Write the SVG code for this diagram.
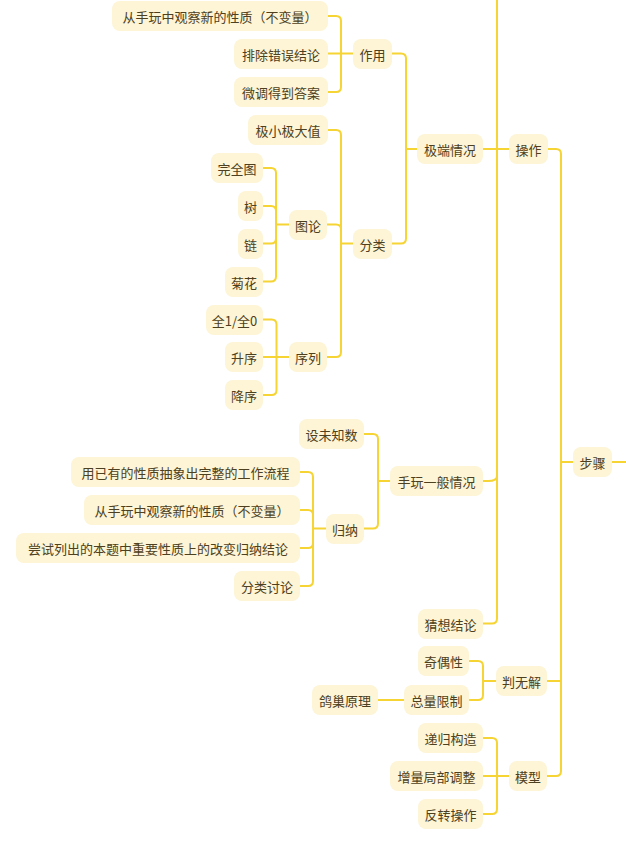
<svg xmlns="http://www.w3.org/2000/svg" width="626" height="844" viewBox="0 0 626 844">
<style>
.bg{fill:#ffffff}
.c path{fill:none;stroke:#f5d434;stroke-width:2;stroke-linecap:round}
.n rect{fill:#fdf5d6}
.n text{font-family:"Noto Sans CJK SC","Noto Sans",sans-serif;font-size:13px;fill:#4d4020;text-anchor:middle;dominant-baseline:central}
</style>
<rect class="bg" x="0" y="0" width="626" height="844"/>
<g id="connectors" class="c">
<!-- 步骤 -->
<path d="M612,462 H626"/>
<path d="M573,462 H561"/>
<path d="M548,149 H556 Q561,149 561,154 V771 Q561,776 556,776 H547"/>
<path d="M547,681 H561"/>
<!-- 操作 -->
<path d="M509,149 H483"/>
<path d="M497,-10 V618.5 Q497,623.5 492,623.5 H483"/>
<path d="M483,481 H488 Q497,481 497,476"/>
<!-- 极端情况 -->
<path d="M417,149 H406"/>
<path d="M392,53.5 H401 Q406,53.5 406,58.5 V238.5 Q406,243.5 401,243.5 H392"/>
<!-- 作用 -->
<path d="M353,53.5 H328"/>
<path d="M328,16 H336 Q341,16 341,21 V87 Q341,92 336,92 H328"/>
<!-- 分类 -->
<path d="M353,243.5 H341"/>
<path d="M328,130 H336 Q341,130 341,135 V352 Q341,357 336,357 H327"/>
<path d="M327,224.5 H336 Q341,224.5 341,229.5"/>
<!-- 图论 -->
<path d="M289,224.5 H276"/>
<path d="M263,168 H271 Q276,168 276,173 V276.5 Q276,281.5 271,281.5 H263"/>
<path d="M263,206 H271 Q276,206 276,211"/>
<path d="M263,243.5 H271 Q276,243.5 276,238.5"/>
<!-- 序列 -->
<path d="M289,357 H263"/>
<path d="M263,319.5 H271.5 Q276.5,319.5 276.5,324.5 V390 Q276.5,395 271.5,395 H263"/>
<!-- 手玩一般情况 -->
<path d="M390,481 H378"/>
<path d="M364,434 H373 Q378,434 378,439 V523.5 Q378,528.5 373,528.5 H364"/>
<!-- 归纳 -->
<path d="M326,528.5 H313"/>
<path d="M300,472 H308 Q313,472 313,477 V581 Q313,586 308,586 H300"/>
<path d="M300,510 H308 Q313,510 313,515"/>
<path d="M300,548 H308 Q313,548 313,543"/>
<!-- 判无解 -->
<path d="M496,681 H483"/>
<path d="M469,661 H478 Q483,661 483,666 V695 Q483,700 478,700 H469"/>
<!-- 总量限制 -->
<path d="M404,700 H378"/>
<!-- 模型 -->
<path d="M509,776 H483"/>
<path d="M483,738 H492 Q497,738 497,743 V809 Q497,814 492,814 H483"/>
</g>
<g id="n-buzhou" class="n"><rect x="573" y="447" width="39" height="30" rx="8"/><text x="592.5" y="462">步骤</text></g>
<g id="n-caozuo" class="n"><rect x="509" y="134" width="39" height="30" rx="8"/><text x="528.5" y="149">操作</text></g>
<g id="n-panwujie" class="n"><rect x="496" y="666" width="51" height="30" rx="8"/><text x="521.5" y="681">判无解</text></g>
<g id="n-moxing" class="n"><rect x="509" y="761" width="38" height="30" rx="8"/><text x="528" y="776">模型</text></g>
<g id="n-jiduan" class="n"><rect x="417" y="134" width="66" height="30" rx="8"/><text x="450" y="149">极端情况</text></g>
<g id="n-shouwan" class="n"><rect x="390" y="466" width="93" height="30" rx="8"/><text x="436.5" y="481">手玩一般情况</text></g>
<g id="n-caixiang" class="n"><rect x="418" y="609" width="65" height="30" rx="8"/><text x="450.5" y="624">猜想结论</text></g>
<g id="n-zuoyong" class="n"><rect x="353" y="39" width="39" height="30" rx="8"/><text x="372.5" y="54">作用</text></g>
<g id="n-fenlei" class="n"><rect x="353" y="229" width="39" height="30" rx="8"/><text x="372.5" y="244">分类</text></g>
<g id="n-guancha1" class="n"><rect x="112" y="1" width="216" height="30" rx="8"/><text x="220" y="16">从手玩中观察新的性质（不变量）</text></g>
<g id="n-paichu" class="n"><rect x="234" y="39" width="94" height="30" rx="8"/><text x="281" y="54">排除错误结论</text></g>
<g id="n-weitiao" class="n"><rect x="234" y="77" width="94" height="30" rx="8"/><text x="281" y="92">微调得到答案</text></g>
<g id="n-jixiao" class="n"><rect x="248" y="115" width="80" height="30" rx="8"/><text x="288" y="130">极小极大值</text></g>
<g id="n-tulun" class="n"><rect x="289" y="210" width="38" height="30" rx="8"/><text x="308" y="225">图论</text></g>
<g id="n-xulie" class="n"><rect x="289" y="342" width="38" height="30" rx="8"/><text x="308" y="357">序列</text></g>
<g id="n-wanquantu" class="n"><rect x="211" y="153" width="52" height="30" rx="8"/><text x="237" y="168">完全图</text></g>
<g id="n-shu" class="n"><rect x="238" y="191" width="25" height="30" rx="8"/><text x="250.5" y="206">树</text></g>
<g id="n-lian" class="n"><rect x="238" y="229" width="25" height="30" rx="8"/><text x="250.5" y="244">链</text></g>
<g id="n-juhua" class="n"><rect x="225" y="267" width="38" height="30" rx="8"/><text x="244" y="282">菊花</text></g>
<g id="n-quan" class="n"><rect x="206" y="305" width="57" height="30" rx="8"/><text x="234.5" y="320">全1/全0</text></g>
<g id="n-shengxu" class="n"><rect x="225" y="342" width="38" height="30" rx="8"/><text x="244" y="357">升序</text></g>
<g id="n-jiangxu" class="n"><rect x="225" y="380" width="38" height="30" rx="8"/><text x="244" y="395">降序</text></g>
<g id="n-sheweizhi" class="n"><rect x="299" y="419" width="65" height="30" rx="8"/><text x="331.5" y="434">设未知数</text></g>
<g id="n-guina" class="n"><rect x="326" y="514" width="38" height="30" rx="8"/><text x="345" y="529">归纳</text></g>
<g id="n-chouxiang" class="n"><rect x="71" y="457" width="229" height="30" rx="8"/><text x="185.5" y="472">用已有的性质抽象出完整的工作流程</text></g>
<g id="n-guancha2" class="n"><rect x="84" y="495" width="216" height="30" rx="8"/><text x="192" y="510">从手玩中观察新的性质（不变量）</text></g>
<g id="n-changshi" class="n"><rect x="16" y="533" width="284" height="30" rx="8"/><text x="158" y="548">尝试列出的本题中重要性质上的改变归纳结论</text></g>
<g id="n-fenleitaolun" class="n"><rect x="234" y="571" width="66" height="30" rx="8"/><text x="267" y="586">分类讨论</text></g>
<g id="n-qiou" class="n"><rect x="418" y="646" width="51" height="30" rx="8"/><text x="443.5" y="661">奇偶性</text></g>
<g id="n-zongliang" class="n"><rect x="404" y="685" width="65" height="30" rx="8"/><text x="436.5" y="700">总量限制</text></g>
<g id="n-gechao" class="n"><rect x="312" y="685" width="66" height="30" rx="8"/><text x="345" y="700">鸽巢原理</text></g>
<g id="n-digui" class="n"><rect x="418" y="723" width="65" height="30" rx="8"/><text x="450.5" y="738">递归构造</text></g>
<g id="n-zengliang" class="n"><rect x="390" y="761" width="93" height="30" rx="8"/><text x="436.5" y="776">增量局部调整</text></g>
<g id="n-fanzhuan" class="n"><rect x="418" y="799" width="65" height="30" rx="8"/><text x="450.5" y="814">反转操作</text></g>
</svg>
